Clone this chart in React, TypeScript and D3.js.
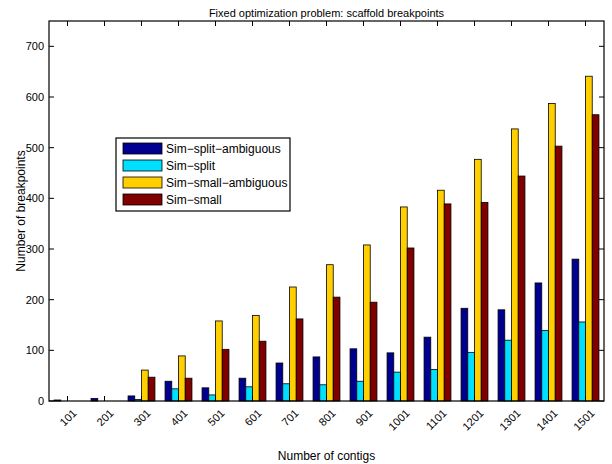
import React from "react";
import * as d3 from "d3";

const categories = ["101","201","301","401","501","601","701","801","901","1001","1101","1201","1301","1401","1501"];
const seriesNames = ["Sim\u2212split\u2212ambiguous","Sim\u2212split","Sim\u2212small\u2212ambiguous","Sim\u2212small"];
const simSplitAmbiguous = [2,5,10,39,26,45,75,87,103,95,126,183,180,233,280];
const simSplit = [0,0,3,24,12,28,34,32,39,57,62,96,120,139,156];
const simSmallAmbiguous = [0,0,61,89,158,169,225,269,308,383,416,477,537,587,641];
const simSmall = [0,0,47,45,102,118,162,205,195,302,389,392,444,503,565];
const seriesColors = ["#000090","#00DFFF","#FFCF00","#800000"];
const yTicks = [0,100,200,300,400,500,600,700];

const W = 612, H = 464;
const M = { left: 49, right: 604, top: 21, bottom: 401 };
const FONT = "'Liberation Sans', Arial, Helvetica, sans-serif";

export default function App() {
  const series = [simSplitAmbiguous, simSplit, simSmallAmbiguous, simSmall];
  const x = d3.scaleBand<string>().domain(categories).range([M.left, M.right]).paddingInner(0).paddingOuter(0);
  const groupW = x.bandwidth() * 0.727;
  const xs = d3.scaleBand<number>().domain(d3.range(series.length)).range([-groupW / 2, groupW / 2]).padding(0);
  const y = d3.scaleLinear().domain([0, 750]).range([M.bottom, M.top]);
  const cx = (c: string) => (x(c) as number) + x.bandwidth() / 2;
  const tl = 5;

  return (
    <svg width={W} height={H} style={{ position: "absolute", left: 0, top: 0, background: "#fff" }} fontFamily={FONT}>
      <rect x={0} y={0} width={W} height={H} fill="#fff" />
      {series.map((vals, si) =>
        vals.map((v, i) => {
          const c = categories[i];
          const x0 = cx(c) + (xs(si) as number);
          return (
            <rect key={si + "-" + i} x={x0} y={y(v)} width={xs.bandwidth()} height={y(0) - y(v)}
              fill={seriesColors[si]} stroke="#000" strokeWidth={0.8} />
          );
        })
      )}
      <rect x={M.left} y={M.top} width={M.right - M.left} height={M.bottom - M.top} fill="none" stroke="#000" strokeWidth={1.2} />
      {yTicks.map((t) => (
        <g key={"y" + t}>
          <line x1={M.left} x2={M.left + tl} y1={y(t)} y2={y(t)} stroke="#000" strokeWidth={1} />
          <line x1={M.right} x2={M.right - tl} y1={y(t)} y2={y(t)} stroke="#000" strokeWidth={1} />
          <text x={M.left - 5} y={y(t)} textAnchor="end" dominantBaseline="central" fontSize={11}>{t}</text>
        </g>
      ))}
      {categories.map((c) => (
        <g key={"x" + c}>
          <line x1={cx(c)} x2={cx(c)} y1={M.bottom} y2={M.bottom - tl} stroke="#000" strokeWidth={1} />
          <line x1={cx(c)} x2={cx(c)} y1={M.top} y2={M.top + tl} stroke="#000" strokeWidth={1} />
          <text transform={`translate(${cx(c) + 7},${M.bottom + 10}) rotate(-45)`} textAnchor="end" dominantBaseline="central" fontSize={11}>{c}</text>
        </g>
      ))}
      <text x={(M.left + M.right) / 2} y={17} textAnchor="middle" fontSize={11}>Fixed optimization problem: scaffold breakpoints</text>
      <text x={(M.left + M.right) / 2} y={460} textAnchor="middle" fontSize={12}>Number of contigs</text>
      <text transform={`translate(25,${(M.top + M.bottom) / 2}) rotate(-90)`} textAnchor="middle" fontSize={12}>Number of breakpoints</text>
      <rect x={116} y={138} width={174} height={73} fill="#fff" stroke="#000" strokeWidth={1.2} />
      {seriesNames.map((n, i) => (
        <g key={"l" + n}>
          <rect x={123} y={143 + i * 17} width={39} height={11} fill={seriesColors[i]} stroke="#000" strokeWidth={0.8} />
          <text x={166} y={148.5 + i * 17} dominantBaseline="central" fontSize={12}>{n}</text>
        </g>
      ))}
    </svg>
  );
}
